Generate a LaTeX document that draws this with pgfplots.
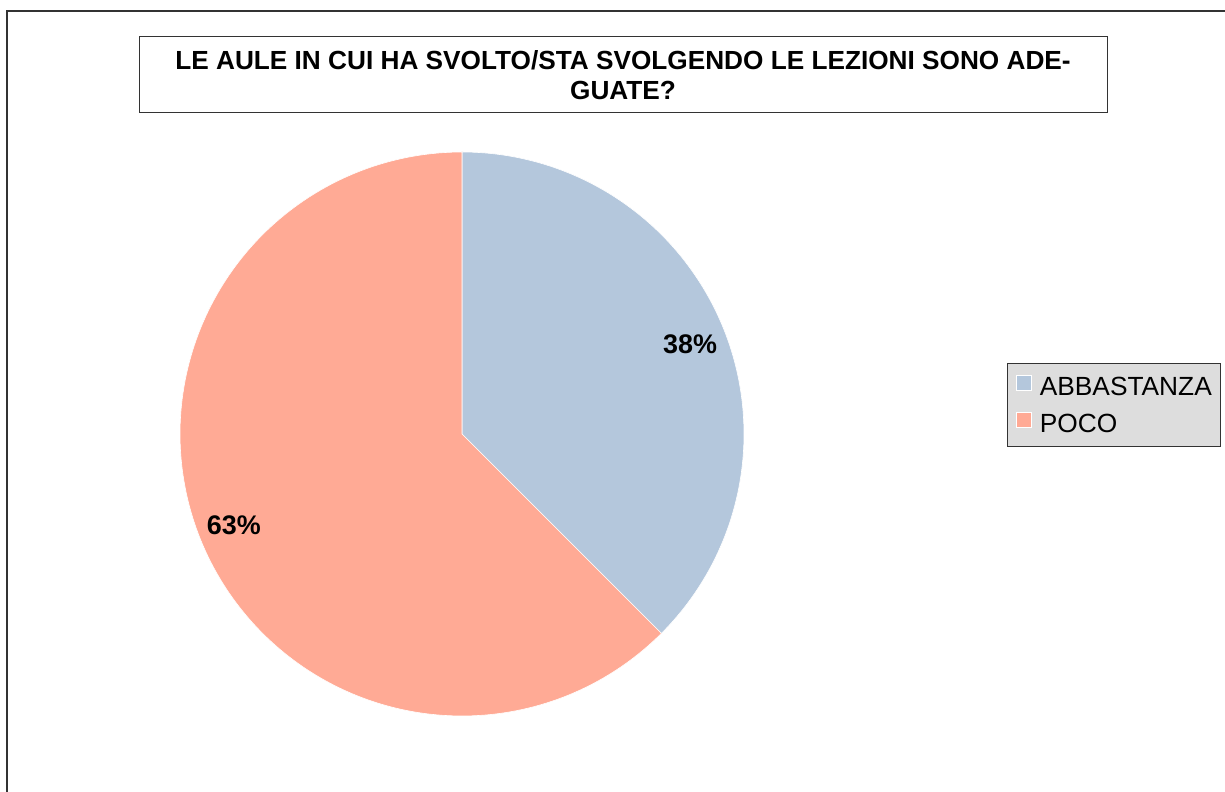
\documentclass[border=0pt]{standalone}
\usepackage{pgfplots}
\pgfplotsset{compat=1.18}
\usepackage{pgfplotstable}
\usepackage{fontspec}
\setmainfont{Liberation Sans}
\definecolor{abb}{HTML}{B4C7DC}
\definecolor{poco}{HTML}{FFAA95}
\definecolor{leggray}{HTML}{DDDDDD}
% shares (percent)
\pgfplotstableread{
label value
ABBASTANZA 37.5
POCO 62.5
}\piedata
\begin{document}
\begin{tikzpicture}[x=1bp,y=1bp]
\useasboundingbox (0,0) rectangle (1225,792);
\fill[white] (0,0) rectangle (1225,792);
% outer frame
\draw[line width=1.3bp,black!80] (7,-10) -- (7,781) -- (1240,781);
% title box
\draw[line width=1bp,black!80] (139,679) rectangle (1107,755);
\node[font=\fontsize{26.3}{30}\selectfont\bfseries, align=center] at (623,717)
  {LE AULE IN CUI HA SVOLTO/STA SVOLGENDO LE LEZIONI SONO ADE-\\GUATE?};
\pgfplotstablegetelem{0}{value}\of\piedata \let\va\pgfplotsretval
\begin{axis}[
  at={(180bp,76bp)}, anchor=south west,
  width=564bp, height=564bp, scale only axis,
  xmin=-1, xmax=1, ymin=-1, ymax=1,
  hide axis, clip=false,
  area legend,
  legend image code/.code={\fill[#1] (0pt,5.3bp) rectangle (15bp,20.3bp);},
  legend style={
    at={(1.466,0.626)}, anchor=north west,
    fill=leggray, draw=black!80, line width=0.8bp,
    font=\fontsize{26.4}{30}\selectfont,
    row sep=7bp, column sep=0bp, inner xsep=9bp, inner ysep=8bp,
    nodes={inner xsep=0bp, inner ysep=0bp, text height=24bp, text depth=6bp, anchor=base west},
  },
]
\addplot[fill=abb, draw=white, line width=0.6bp, domain=0:\va, samples=120]
  ({sin(3.6*x)},{cos(3.6*x)}) -- (axis cs:0,0) -- cycle;
\addlegendentry{\hspace{8bp}ABBASTANZA}
\addplot[fill=poco, draw=white, line width=0.6bp, domain=\va:100, samples=180]
  ({sin(3.6*x)},{cos(3.6*x)}) -- (axis cs:0,0) -- cycle;
\addlegendentry{\hspace{8bp}POCO}
\node[font=\fontsize{27}{30}\selectfont\bfseries] at (axis cs:0.809,0.319) {38\%};
\node[font=\fontsize{27}{30}\selectfont\bfseries] at (axis cs:-0.809,-0.323) {63\%};
\end{axis}
\end{tikzpicture}
\end{document}
